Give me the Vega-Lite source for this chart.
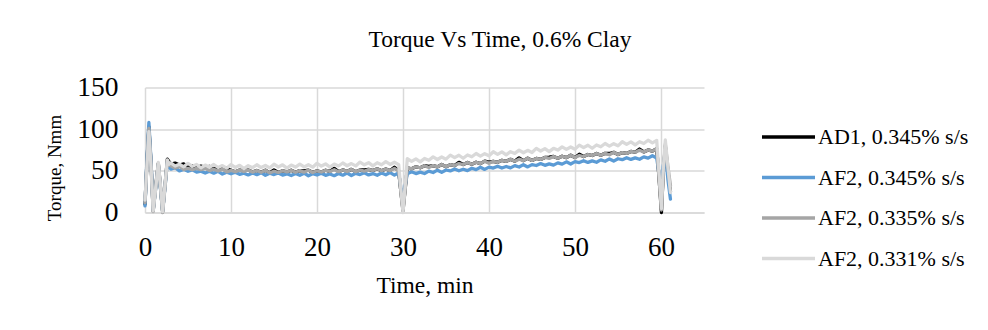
{
  "$schema": "https://vega.github.io/schema/vega-lite/v6.json",
  "width": 559,
  "height": 125,
  "autosize": {"type": "none"},
  "padding": {"left": 145, "top": 87.5, "right": 284, "bottom": 117.5},
  "background": "white",
  "config": {
    "font": "Liberation Serif",
    "view": {"stroke": null},
    "axis": {"grid": true, "gridColor": "#d9d9d9", "gridWidth": 1.5, "domainColor": "#d9d9d9", "domainWidth": 1.5, "ticks": false, "tickSize": 0, "labelFont": "Liberation Serif", "titleFont": "Liberation Serif", "labelColor": "#000000", "titleColor": "#000000", "titleFontWeight": "normal"}
  },
  "title": {"text": "Torque Vs Time, 0.6% Clay", "font": "Liberation Serif", "fontSize": 23.5, "fontWeight": "normal", "color": "#000000", "anchor": "middle", "frame": "group", "dx": 75.5, "baseline": "bottom", "offset": -2},
  "data": {"values": [
    {"t":0,"a":10,"b":8,"c":12,"d":15},
    {"t":0.2,"a":55,"b":58,"c":52,"d":50},
    {"t":0.45,"a":103,"b":108,"c":101,"d":97},
    {"t":0.7,"a":60,"b":62,"c":58,"d":55},
    {"t":0.95,"a":2,"b":3,"c":1,"d":2},
    {"t":1.25,"a":32,"b":30,"c":30,"d":30},
    {"t":1.55,"a":59,"b":57,"c":58,"d":60},
    {"t":1.8,"a":30,"b":28,"c":30,"d":32},
    {"t":2.05,"a":1,"b":2,"c":0,"d":1},
    {"t":2.35,"a":35,"b":33,"c":33,"d":36},
    {"t":2.6,"a":64,"b":61,"c":62,"d":63},
    {"t":2.8,"a":61,"b":55,"c":57,"d":58},
    {"t":3,"a":58,"b":52,"c":56,"d":59.5},
    {"t":3.5,"a":59.3,"b":53.8,"c":53.4,"d":55.8},
    {"t":4,"a":57,"b":50,"c":55.3,"d":58},
    {"t":4.5,"a":58.3,"b":51.8,"c":51.6,"d":54.8},
    {"t":5,"a":55,"b":49.5,"c":53,"d":59},
    {"t":5.5,"a":56.1,"b":51.2,"c":51.3,"d":55.4},
    {"t":6,"a":53.6,"b":48.4,"c":53,"d":57.7},
    {"t":6.5,"a":55.7,"b":49.6,"c":51.3,"d":53.6},
    {"t":7,"a":54.2,"b":47.3,"c":53,"d":56.9},
    {"t":7.5,"a":55.3,"b":49.5,"c":50.3,"d":54.3},
    {"t":8,"a":52.3,"b":47.2,"c":52,"d":57.6},
    {"t":8.5,"a":53.9,"b":49.4,"c":49.8,"d":54},
    {"t":9,"a":51.9,"b":46.1,"c":52,"d":56.3},
    {"t":9.5,"a":53.5,"b":48.3,"c":48.8,"d":53.2},
    {"t":10,"a":50.5,"b":46.5,"c":50.5,"d":57.5},
    {"t":10.5,"a":48.9,"b":48.4,"c":48.9,"d":54.1},
    {"t":11,"a":50.8,"b":45.8,"c":50.8,"d":56.6},
    {"t":11.5,"a":50.7,"b":47.2,"c":49.2,"d":52.7},
    {"t":12,"a":51.1,"b":45.1,"c":51.1,"d":56.2},
    {"t":12.5,"a":48.5,"b":47.5,"c":48.5,"d":53.8},
    {"t":13,"a":50.4,"b":45.4,"c":50.4,"d":57.3},
    {"t":13.5,"a":48.3,"b":47.8,"c":48.3,"d":53.9},
    {"t":14,"a":50.7,"b":44.7,"c":50.7,"d":56.4},
    {"t":14.5,"a":47.6,"b":47.1,"c":47.6,"d":53.5},
    {"t":15,"a":51,"b":45.5,"c":49.5,"d":58},
    {"t":15.5,"a":48.1,"b":47.5,"c":48.1,"d":54.6},
    {"t":16,"a":50.1,"b":44.9,"c":50.1,"d":57.2},
    {"t":16.5,"a":48.7,"b":46.4,"c":48.7,"d":53.3},
    {"t":17,"a":50.7,"b":44.3,"c":50.7,"d":56.9},
    {"t":17.5,"a":48.3,"b":46.8,"c":48.3,"d":54.5},
    {"t":18,"a":50.3,"b":44.7,"c":50.3,"d":58.1},
    {"t":18.5,"a":49.9,"b":47.2,"c":48.4,"d":54.7},
    {"t":19,"a":50.9,"b":44.1,"c":50.9,"d":57.3},
    {"t":19.5,"a":48,"b":46.6,"c":48,"d":54.4},
    {"t":20,"a":50,"b":45,"c":50,"d":59},
    {"t":20.5,"a":48.6,"b":47.1,"c":48.6,"d":55.7},
    {"t":21,"a":50.7,"b":44.6,"c":50.7,"d":58.3},
    {"t":21.5,"a":49.3,"b":46.2,"c":49.3,"d":54.5},
    {"t":22,"a":52.9,"b":44.2,"c":51.4,"d":58.1},
    {"t":22.5,"a":49,"b":46.8,"c":49,"d":55.8},
    {"t":23,"a":51.1,"b":44.8,"c":51.1,"d":59.4},
    {"t":23.5,"a":49.2,"b":47.4,"c":49.2,"d":56.1},
    {"t":24,"a":51.8,"b":44.4,"c":51.8,"d":58.7},
    {"t":24.5,"a":48.9,"b":47,"c":48.9,"d":55.9},
    {"t":25,"a":51,"b":45.5,"c":51,"d":60.5},
    {"t":25.5,"a":51.1,"b":47.6,"c":49.6,"d":57.2},
    {"t":26,"a":51.7,"b":45.1,"c":51.7,"d":59.8},
    {"t":26.5,"a":50.3,"b":46.7,"c":50.3,"d":56},
    {"t":27,"a":52.4,"b":44.7,"c":52.4,"d":59.7},
    {"t":27.5,"a":50.1,"b":47.3,"c":50.1,"d":57.3},
    {"t":28,"a":52.2,"b":45.3,"c":52.2,"d":61},
    {"t":28.5,"a":50.3,"b":47.9,"c":50.3,"d":57.7},
    {"t":29,"a":54.4,"b":44.9,"c":52.9,"d":60.3},
    {"t":29.5,"a":50,"b":47.5,"c":50,"d":57.5},
    {"t":29.75,"a":25,"b":30,"c":25,"d":28},
    {"t":30,"a":2,"b":18,"c":4,"d":0},
    {"t":30.25,"a":28,"b":32,"c":28,"d":32},
    {"t":30.5,"a":53.5,"b":46.5,"c":53.5,"d":64.5},
    {"t":31,"a":52.4,"b":48.8,"c":52.4,"d":61.4},
    {"t":31.5,"a":54.8,"b":46.7,"c":54.8,"d":64.4},
    {"t":32,"a":53.7,"b":48.5,"c":53.7,"d":60.8},
    {"t":32.5,"a":56.1,"b":46.8,"c":56.1,"d":64.8},
    {"t":33,"a":55.4,"b":49.7,"c":53.9,"d":62.7},
    {"t":33.5,"a":56.3,"b":48,"c":56.3,"d":66.7},
    {"t":34,"a":54.7,"b":50.8,"c":54.7,"d":63.6},
    {"t":34.5,"a":57.6,"b":48.2,"c":57.6,"d":66.6},
    {"t":35,"a":55,"b":51,"c":55,"d":64},
    {"t":35.5,"a":57.4,"b":49.9,"c":57.4,"d":68.9},
    {"t":36,"a":56.3,"b":52.2,"c":56.3,"d":65.8},
    {"t":36.5,"a":60.2,"b":50.1,"c":58.7,"d":68.7},
    {"t":37,"a":57.6,"b":51.9,"c":57.6,"d":65.1},
    {"t":37.5,"a":60,"b":50.3,"c":60,"d":69},
    {"t":38,"a":57.9,"b":53.1,"c":57.9,"d":66.9},
    {"t":38.5,"a":60.3,"b":51.5,"c":60.3,"d":70.8},
    {"t":39,"a":58.7,"b":54.3,"c":58.7,"d":67.7},
    {"t":39.5,"a":61.6,"b":51.7,"c":61.6,"d":70.6},
    {"t":40,"a":60.5,"b":54.5,"c":59,"d":68},
    {"t":40.5,"a":61.4,"b":53.3,"c":61.4,"d":72.9},
    {"t":41,"a":60.2,"b":55.6,"c":60.2,"d":69.8},
    {"t":41.5,"a":62.6,"b":53.4,"c":62.6,"d":72.7},
    {"t":42,"a":61.4,"b":55.2,"c":61.4,"d":69.1},
    {"t":42.5,"a":63.8,"b":53.5,"c":63.8,"d":73},
    {"t":43,"a":61.6,"b":56.3,"c":61.6,"d":70.9},
    {"t":43.5,"a":65.5,"b":54.6,"c":64,"d":74.8},
    {"t":44,"a":62.3,"b":57.4,"c":62.3,"d":71.7},
    {"t":44.5,"a":65.2,"b":54.7,"c":65.2,"d":74.6},
    {"t":45,"a":62.5,"b":57.5,"c":62.5,"d":72},
    {"t":45.5,"a":64.9,"b":56.4,"c":64.9,"d":76.9},
    {"t":46,"a":63.7,"b":58.7,"c":63.7,"d":73.8},
    {"t":46.5,"a":66.1,"b":56.6,"c":66.1,"d":76.7},
    {"t":47,"a":66.4,"b":58.4,"c":64.9,"d":73.1},
    {"t":47.5,"a":67.3,"b":56.8,"c":67.3,"d":77},
    {"t":48,"a":65.1,"b":59.6,"c":65.1,"d":74.9},
    {"t":48.5,"a":67.5,"b":58,"c":67.5,"d":78.8},
    {"t":49,"a":65.8,"b":60.8,"c":65.8,"d":75.7},
    {"t":49.5,"a":68.7,"b":58.2,"c":68.7,"d":78.6},
    {"t":50,"a":66,"b":61,"c":66,"d":76},
    {"t":50.5,"a":69.9,"b":59.9,"c":68.4,"d":80.9},
    {"t":51,"a":67.2,"b":62.2,"c":67.2,"d":77.8},
    {"t":51.5,"a":69.6,"b":60.1,"c":69.6,"d":80.7},
    {"t":52,"a":68.4,"b":61.9,"c":68.4,"d":77.1},
    {"t":52.5,"a":70.8,"b":60.3,"c":70.8,"d":81},
    {"t":53,"a":68.6,"b":63.1,"c":68.6,"d":78.9},
    {"t":53.5,"a":71,"b":61.5,"c":71,"d":82.8},
    {"t":54,"a":70.8,"b":64.3,"c":69.3,"d":79.7},
    {"t":54.5,"a":72.2,"b":61.7,"c":72.2,"d":82.6},
    {"t":55,"a":69.5,"b":64.5,"c":69.5,"d":80},
    {"t":55.5,"a":71.9,"b":63.4,"c":71.9,"d":84.9},
    {"t":56,"a":70.9,"b":65.8,"c":70.9,"d":81.8},
    {"t":56.5,"a":73.3,"b":63.7,"c":73.3,"d":84.7},
    {"t":57,"a":72.3,"b":65.6,"c":72.3,"d":81.1},
    {"t":57.5,"a":76.2,"b":63.9,"c":74.7,"d":84.9},
    {"t":58,"a":72.7,"b":66.8,"c":72.7,"d":82.8},
    {"t":58.5,"a":75.1,"b":65.2,"c":75.1,"d":86.7},
    {"t":59,"a":73.6,"b":68.1,"c":73.6,"d":83.6},
    {"t":59.5,"a":76.5,"b":65.5,"c":76.5,"d":86.5},
    {"t":59.75,"a":45,"b":48,"c":45,"d":50},
    {"t":60.05,"a":0,"b":40,"c":3,"d":5},
    {"t":60.25,"a":45,"b":55,"c":45,"d":50},
    {"t":60.5,"a":80,"b":72,"c":82,"d":87},
    {"t":60.8,"a":50,"b":40,"c":55,"d":55},
    {"t":61.1,"a":25,"b":16,"c":32,"d":24}
  ]},
  "transform": [{"fold": ["a", "b", "c", "d"], "as": ["series", "torque"]}],
  "encoding": {
    "x": {"field": "t", "type": "quantitative", "scale": {"domain": [0, 65], "nice": false, "zero": false},
      "axis": {"values": [0, 10, 20, 30, 40, 50, 60], "title": "Time, min", "labelFontSize": 27, "labelPadding": 22, "titleFontSize": 23.5, "titlePadding": 13, "labelFlush": false}},
    "y": {"field": "torque", "type": "quantitative", "scale": {"domain": [0, 150], "nice": false},
      "axis": {"values": [0, 50, 100, 150], "title": "Torque, Nmm", "labelFontSize": 27.5, "labelPadding": 27, "titleFontSize": 19, "titlePadding": 12, "titleY": 80, "domain": false}},
    "color": {"field": "series", "type": "nominal",
      "scale": {"domain": ["a", "b", "c", "d"], "range": ["#000000", "#5b9bd5", "#a5a5a5", "#d9d9d9"]},
      "legend": {"title": null, "orient": "none", "legendX": 615, "legendY": 21, "symbolType": "stroke", "symbolSize": 2809, "symbolStrokeWidth": 3.3, "labelFont": "Liberation Serif", "labelFontSize": 22, "labelColor": "#000000", "labelOffset": 1, "rowPadding": 0.5, "labelLimit": 300,
        "labelExpr": "datum.label == 'a' ? 'AD1, 0.345% s/s' : datum.label == 'b' ? 'AF2, 0.345% s/s' : datum.label == 'c' ? 'AF2, 0.335% s/s' : 'AF2, 0.331% s/s'"}}
  },
  "layer": [
    {"transform": [{"filter": "datum.series == 'a'"}], "mark": {"type": "line", "strokeWidth": 3.3, "strokeJoin": "round", "strokeCap": "round"}},
    {"transform": [{"filter": "datum.series == 'b'"}], "mark": {"type": "line", "strokeWidth": 3.3, "strokeJoin": "round", "strokeCap": "round"}},
    {"transform": [{"filter": "datum.series == 'c'"}], "mark": {"type": "line", "strokeWidth": 3.3, "strokeJoin": "round", "strokeCap": "round"}},
    {"transform": [{"filter": "datum.series == 'd'"}], "mark": {"type": "line", "strokeWidth": 3.3, "strokeJoin": "round", "strokeCap": "round"}}
  ]
}
